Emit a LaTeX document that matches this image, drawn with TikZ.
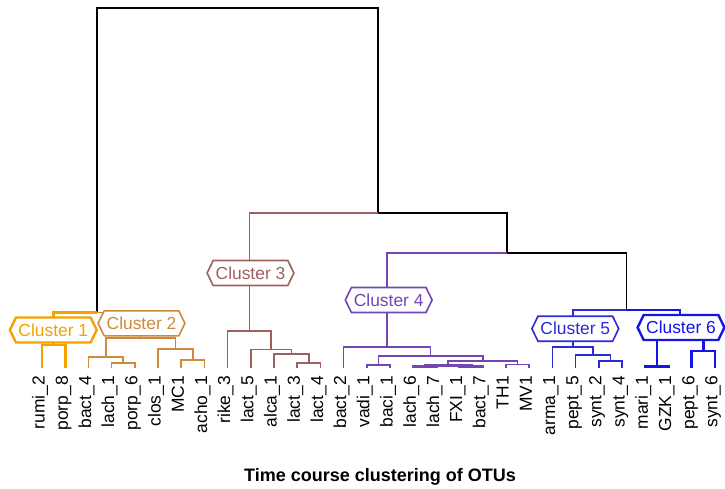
\documentclass[tikz,border=0pt]{standalone}
\usepackage{fontspec}
\setmainfont{Liberation Sans}
\usetikzlibrary{shapes.symbols}
\definecolor{clOne}{HTML}{F5A100}
\definecolor{clTwo}{HTML}{CD8A3C}
\definecolor{clThree}{HTML}{A05F5D}
\definecolor{clFour}{HTML}{7446B4}
\definecolor{clFive}{HTML}{2B2BD9}
\definecolor{clSix}{HTML}{1414E6}

\begin{document}
\begin{tikzpicture}[x=1pt,y=-1pt,every node/.style={font=\fontsize{17.4}{20}\selectfont},
                branch/.style={line width=1.6pt},
                fat/.style={line width=2.6pt},
                cbox/.style={signal,signal to=west and east,signal pointer angle=128,draw=#1,text=#1,fill=white,
                    line width=1.6pt,inner xsep=2.5pt,inner ysep=0pt,minimum height=25pt},
                leaflab/.style={rotate=90,anchor=mid east,inner sep=0pt}]
                \useasboundingbox (0,0) rectangle (725,488);
                % leaves
                \foreach \t [count=\i] in {rumi\_2,porp\_8,bact\_4,lach\_1,porp\_6,clos\_1,MC1,acho\_1,
                    rike\_3,lact\_5,alca\_1,lact\_3,lact\_4,bact\_2,vadi\_1,baci\_1,lach\_6,lach\_7,FXI\_1,
                    bact\_7,TH1,MV1,arma\_1,pept\_5,synt\_2,synt\_4,mari\_1,GZK\_1,pept\_6,synt\_6}{
                    \coordinate (leaf\i) at ({42+23.2*(\i-1)},367.5);
                    \node[leaflab] (lab\i) at ({42+23.2*(\i-1)},376) {\t};
                }
                % merge points
                \coordinate (c1a) at (53.6,345);
                \coordinate (c2b) at (123.2,362.7);
                \coordinate (c2a) at (105.8,356.7);
                \coordinate (c2d) at (192.8,360);
                \coordinate (c2c) at (175.4,349);
                \coordinate (c2) at (140.6,337.7);
                \coordinate (c12) at (97.1,312.3);
                \coordinate (c3d) at (308.8,362.7);
                \coordinate (c3c) at (291.4,354);
                \coordinate (c3b) at (271.1,349.3);
                \coordinate (c3) at (249.35,331);
                \coordinate (c4b) at (378.4,364.7);
                \coordinate (c4f) at (424.8,366.7);
                \coordinate (c4g) at (471.2,366.7);
                \coordinate (c4e) at (448,365.7);
                \coordinate (c4h) at (517.6,364.5);
                \coordinate (c4d) at (482.8,361);
                \coordinate (c4c) at (430.6,355.8);
                \coordinate (c4) at (387.1,346.8);
                \coordinate (c5c) at (610.4,361);
                \coordinate (c5b) at (593,355);
                \coordinate (c5) at (572.7,346.7);
                \coordinate (c6a) at (656.8,366.5);
                \coordinate (c6b) at (703.2,351);
                \coordinate (c6) at (680,330);
                \coordinate (c56) at (626.35,310);
                \coordinate (c456) at (506.7,253);
                \coordinate (c3456) at (378,213);
                \coordinate (root) at (237.5,8);
                % branches
                \draw[branch] (root) -| (c12) (root) -| (c3456) (c3456) -| (c456) (c456) -| (c56);
                \draw[fat,clOne] (c12) -| (c1a) (c1a) -| (leaf1) (c1a) -| (leaf2);
                \draw[branch,clTwo] (c12) -| (c2) (c2) -| (c2a) (c2) -| (c2c) (c2a) -| (leaf3) (c2a) -| (c2b)
                    (c2b) -| (leaf4) (c2b) -| (leaf5) (c2c) -| (leaf6) (c2c) -| (c2d) (c2d) -| (leaf7) (c2d) -| (leaf8);
                \draw[branch,clThree] (c3456) -| (c3) (c3) -| (leaf9) (c3) -| (c3b) (c3b) -| (leaf10) (c3b) -| (c3c)
                    (c3c) -| (leaf11) (c3c) -| (c3d) (c3d) -| (leaf12) (c3d) -| (leaf13);
                \draw[branch,clFour] (c456) -| (c4) (c4) -| (leaf14) (c4) -| (c4c) (c4c) -| (c4b) (c4c) -| (c4d)
                    (c4b) -| (leaf15) (c4b) -| (leaf16) (c4d) -| (c4e) (c4d) -| (c4h)
                    (c4h) -| (leaf21) (c4h) -| (leaf22);
                \draw[fat,clFour] (c4e) -| (c4f) (c4e) -| (c4g) (c4f) -| (leaf17) (c4f) -| (leaf18)
                    (c4g) -| (leaf19) (c4g) -| (leaf20);
                \draw[branch,clFive] (c56) -| (c5) (c5) -| (leaf23) (c5) -| (c5b) (c5b) -| (leaf24) (c5b) -| (c5c);
                \draw[fat,clFive] (c5c) -| (leaf25) (c5c) -| (leaf26);
                \draw[fat,clSix] (c56) -| (c6) (c6) -| (c6a) (c6) -| (c6b) (c6a) -| (leaf27) (c6a) -| (leaf28)
                    (c6b) -| (leaf29) (c6b) -| (leaf30);
                % cluster labels
                \node[cbox=clOne,line width=2.4pt] (clu1) at (53.3,330) {Cluster 1};
                \node[cbox=clTwo] (clu2) at (141.5,323.3) {Cluster 2};
                \node[cbox=clThree] (clu3) at (250.5,273) {Cluster 3};
                \node[cbox=clFour] (clu4) at (388.7,300) {Cluster 4};
                \node[cbox=clFive] (clu5) at (575.3,328.7) {Cluster 5};
                \node[cbox=clSix,line width=2.4pt] (clu6) at (681,327.5) {Cluster 6};
                \node[anchor=base,font=\bfseries\fontsize{18}{22}\selectfont] (title) at (380,481.7) {Time course clustering of OTUs};
            \end{tikzpicture}
\end{document}
